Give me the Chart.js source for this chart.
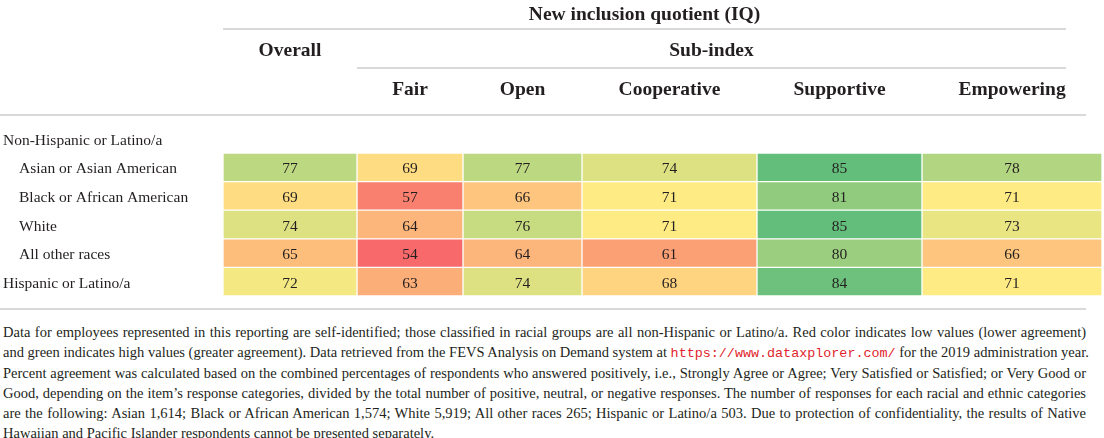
<!DOCTYPE html>
<html lang="en">

<head>
    <meta charset="UTF-8">
    <title>New inclusion quotient (IQ)</title>
    <script src="https://cdn.jsdelivr.net/npm/chart.js@4.4.1/dist/chart.umd.min.js"></script>
    <style>
        body {
            margin: 0;
            background: #fff;
            width: 1104px;
            height: 438px;
            overflow: hidden;
            font-family: 'Liberation Serif', serif;
            color: #231f20;
        }

        #wrap {
            position: absolute;
            left: 0;
            top: 0;
            width: 1104px;
            height: 312px;
        }

        #note {
            position: absolute;
            left: 3px;
            top: 322px;
            width: 1083px;
            font-size: 14.5px;
            line-height: 20.3px;
        }

        #note div {
            height: 20.3px;
            text-align: justify;
            text-align-last: justify;
            white-space: nowrap;
        }

        #note div.last {
            text-align-last: left;
        }

        #note a {
            color: #e0242b;
            text-decoration: none;
            font-family: 'Liberation Mono', monospace;
            font-size: 13.4px;
            line-height: 10px;
        }
    </style>
</head>

<body>

    <div id="wrap">
        <canvas id="table"></canvas>
    </div>

    <!-- footnote under the table -->
    <div id="note">
        <div>Data for employees represented in this reporting are self-identified; those classified in racial groups are all non-Hispanic or Latino/a. Red color indicates low values (lower agreement)</div>
        <div>and green indicates high values (greater agreement). Data retrieved from the FEVS Analysis on Demand system at <a href="https://www.dataxplorer.com/">https://www.dataxplorer.com/</a> for the 2019 administration year.</div>
        <div>Percent agreement was calculated based on the combined percentages of respondents who answered positively, i.e., Strongly Agree or Agree; Very Satisfied or Satisfied; or Very Good or</div>
        <div>Good, depending on the item’s response categories, divided by the total number of positive, neutral, or negative responses. The number of responses for each racial and ethnic categories</div>
        <div>are the following: Asian 1,614; Black or African American 1,574; White 5,919; All other races 265; Hispanic or Latino/a 503. Due to protection of confidentiality, the results of Native</div>
        <div class="last">Hawaiian and Pacific Islander respondents cannot be presented separately.</div>
    </div>

</body>

<script>
    const rowLabels = ['Non-Hispanic or Latino/a', 'Asian or Asian American', 'Black or African American',
        'White', 'All other races', 'Hispanic or Latino/a'];
    const rowIndent = [0, 1, 1, 1, 1, 0];
    const columns = ['Overall', 'Fair', 'Open', 'Cooperative', 'Supportive', 'Empowering'];

    const overall = [null, 77, 69, 74, 65, 72];
    const fair = [null, 69, 57, 64, 54, 63];
    const open = [null, 77, 66, 76, 64, 74];
    const cooperative = [null, 74, 71, 71, 61, 68];
    const supportive = [null, 85, 81, 85, 80, 84];
    const empowering = [null, 78, 71, 73, 66, 71];

    const titleText = 'New inclusion quotient (IQ)';
    const groupText = 'Sub-index';

    // ---- layout (column edges in x-scale units, header positions) ----
    const colEdges = [0, 134, 240, 359, 534, 699, 879];
    const headerRight = 1066;   // header rules end under "Empowering"
    const ruleRight = 1086;
    const textColor = '#231f20';
    const ruleColor = '#cdcdcd';
    const headFont = 'bold 19.5px "Liberation Serif"';
    const bodyFont = '15.5px "Liberation Serif"';

    const columnValues = [overall, fair, open, cooperative, supportive, empowering];

    // excel style 3 colour scale: min red, median yellow, max green
    const allVals = columnValues.flat().filter(v => v != null).sort((a, b) => a - b);
    const vMin = allVals[0];
    const vMax = allVals[allVals.length - 1];
    const half = allVals.length / 2;
    const vMid = allVals.length % 2 ? allVals[Math.floor(half)] : (allVals[half - 1] + allVals[half]) / 2;
    const cLow = [248, 105, 107], cMid = [255, 235, 132], cHigh = [99, 190, 123];

    function cellColor(v) {
        let a, b, t;
        if (v <= vMid) {
            a = cLow; b = cMid; t = (v - vMin) / (vMid - vMin);
        } else {
            a = cMid; b = cHigh; t = (v - vMid) / (vMax - vMid);
        }
        const c = a.map((x, k) => Math.round(x + (b[k] - x) * t));
        return 'rgb(' + c.join(',') + ')';
    }

    const datasets = columnValues.map((vals, j) => ({
        label: columns[j],
        data: vals.map(v => v == null ? null : [colEdges[j], colEdges[j + 1]]),
        backgroundColor: vals.map(v => v == null ? 'rgba(0,0,0,0)' : cellColor(v)),
        borderColor: 'rgba(255,255,255,0.3)',
        borderWidth: 1,
        borderSkipped: false,
        categoryPercentage: 1.0,
        barPercentage: 1.0,
        grouped: false,
    }));

    // draws the numbers, row names and the header block
    const tableText = {
        id: 'tableText',
        afterDatasetsDraw(chart) {
            const { ctx, scales: { x, y } } = chart;
            ctx.save();
            ctx.fillStyle = textColor;

            // cell numbers
            ctx.font = bodyFont;
            ctx.textAlign = 'center';
            ctx.textBaseline = 'alphabetic';
            columnValues.forEach((vals, j) => {
                const meta = chart.getDatasetMeta(j);
                vals.forEach((v, i) => {
                    if (v == null) return;
                    const p = meta.data[i].getCenterPoint();
                    ctx.fillText(String(v), p.x, p.y + 6);
                });
            });

            // row labels
            ctx.textAlign = 'left';
            rowLabels.forEach((lab, i) => {
                ctx.fillText(lab, rowIndent[i] ? 19 : 3, y.getPixelForValue(i) + 6);
            });

            // header
            const left = x.getPixelForValue(colEdges[0]);
            const subLeft = x.getPixelForValue(colEdges[1]);
            ctx.font = headFont;
            ctx.textAlign = 'center';
            ctx.fillText(titleText, (left + headerRight) / 2, 20);
            ctx.fillText(columns[0], (left + subLeft) / 2, 56);
            ctx.fillText(groupText, (subLeft + headerRight) / 2, 56);
            for (let j = 1; j < columns.length; j++) {
                const cx = (x.getPixelForValue(colEdges[j]) + x.getPixelForValue(colEdges[j + 1])) / 2;
                ctx.fillText(columns[j], cx, 95);
            }

            // rules
            ctx.strokeStyle = ruleColor;
            ctx.lineWidth = 1.5;
            const rule = (x0, x1, yy) => {
                ctx.beginPath();
                ctx.moveTo(x0, yy);
                ctx.lineTo(x1, yy);
                ctx.stroke();
            };
            rule(left, headerRight, 29);
            rule(subLeft, headerRight, 68);
            rule(0, ruleRight, 115);
            rule(0, ruleRight, 309);

            ctx.restore();
        }
    };

    const ctx = document.getElementById('table').getContext('2d');
    const myTable = new Chart(ctx, {
        type: 'bar',
        data: {
            labels: rowLabels,
            datasets: datasets
        },
        options: {
            indexAxis: 'y',
            responsive: true,
            maintainAspectRatio: false,
            animation: false,
            layout: {
                padding: { left: 223, right: 2, top: 124.4, bottom: 16 }
            },
            scales: {
                x: {
                    type: 'linear',
                    display: false,
                    min: colEdges[0],
                    max: colEdges[colEdges.length - 1],
                },
                y: {
                    display: false,
                }
            },
            plugins: {
                legend: { display: false },
                title: { display: false },
                tooltip: { enabled: false }
            }
        },
        plugins: [tableText]
    });
</script>

</html>
